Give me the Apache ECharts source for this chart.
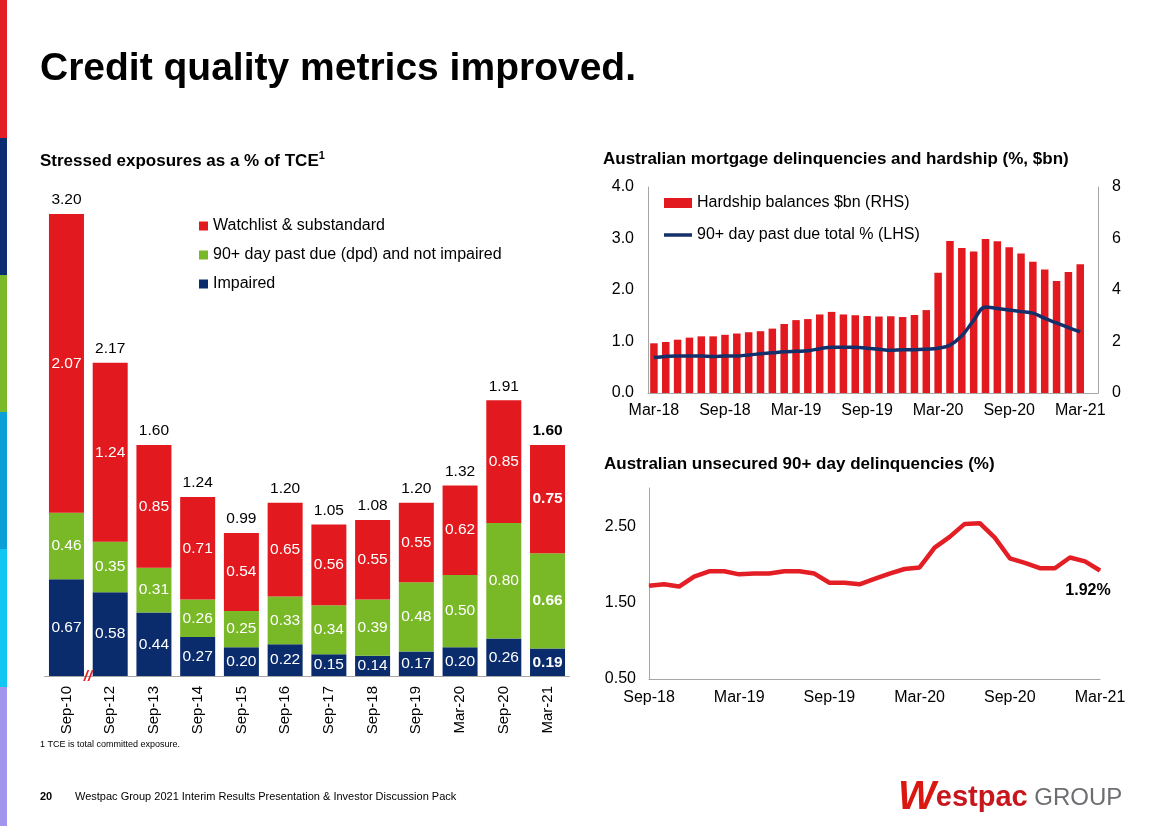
<!DOCTYPE html>
<html><head><meta charset="utf-8">
<script src="https://cdn.jsdelivr.net/npm/echarts@6/dist/echarts.min.js"></script>
<style>html,body{margin:0;padding:0;background:#fff}#c{width:1168px;height:826px}</style>
</head><body><div id="c"></div>
<script>
// ---------- Data ----------
const stressCategories = ['Sep-10','Sep-12','Sep-13','Sep-14','Sep-15','Sep-16','Sep-17','Sep-18','Sep-19','Mar-20','Sep-20','Mar-21'];
const impaired   = [0.67,0.58,0.44,0.27,0.20,0.22,0.15,0.14,0.17,0.20,0.26,0.19];
const pastDue90  = [0.46,0.35,0.31,0.26,0.25,0.33,0.34,0.39,0.48,0.50,0.80,0.66];
const watchlist  = [2.07,1.24,0.85,0.71,0.54,0.65,0.56,0.55,0.55,0.62,0.85,0.75];
const stressTotals = [3.20,2.17,1.60,1.24,0.99,1.20,1.05,1.08,1.20,1.32,1.91,1.60];

const mortgageMonths = ['Mar-18','Apr-18','May-18','Jun-18','Jul-18','Aug-18','Sep-18','Oct-18','Nov-18','Dec-18',
  'Jan-19','Feb-19','Mar-19','Apr-19','May-19','Jun-19','Jul-19','Aug-19','Sep-19','Oct-19','Nov-19','Dec-19',
  'Jan-20','Feb-20','Mar-20','Apr-20','May-20','Jun-20','Jul-20','Aug-20','Sep-20','Oct-20','Nov-20','Dec-20',
  'Jan-21','Feb-21','Mar-21'];
const hardshipBn = [1.93,1.98,2.07,2.15,2.20,2.20,2.26,2.31,2.36,2.40,
  2.50,2.68,2.83,2.87,3.05,3.15,3.05,3.02,2.99,2.97,
  2.98,2.95,3.03,3.22,4.67,5.90,5.63,5.50,5.98,5.89,
  5.66,5.42,5.10,4.80,4.35,4.70,5.00];
const mortgage90 = [0.69,0.71,0.72,0.72,0.72,0.71,0.72,0.72,0.74,0.76,
  0.78,0.80,0.81,0.82,0.86,0.89,0.89,0.89,0.87,0.85,
  0.83,0.84,0.84,0.85,0.87,0.93,1.11,1.41,1.67,1.64,
  1.61,1.58,1.55,1.45,1.36,1.27,1.19];

const unsecuredMonths = ['Sep-18','Oct-18','Nov-18','Dec-18','Jan-19','Feb-19','Mar-19','Apr-19','May-19','Jun-19',
  'Jul-19','Aug-19','Sep-19','Oct-19','Nov-19','Dec-19','Jan-20','Feb-20','Mar-20','Apr-20','May-20','Jun-20',
  'Jul-20','Aug-20','Sep-20','Oct-20','Nov-20','Dec-20','Jan-21','Feb-21','Mar-21'];
const unsecured90 = [1.72,1.74,1.71,1.84,1.91,1.91,1.87,1.88,1.88,1.91,
  1.91,1.88,1.76,1.76,1.74,1.81,1.88,1.94,1.96,2.22,
  2.36,2.53,2.54,2.35,2.08,2.02,1.95,1.95,2.09,2.04,1.92];

// ---------- Styling ----------
const FONT = '"Liberation Sans", Arial, Helvetica, sans-serif';
const RED = '#E2191E', GREEN = '#79B928', NAVY = '#0B2C6C', AXIS = '#A6A6A6';

const chart = echarts.init(document.getElementById('c'), null, {renderer: 'canvas'});

function segData(arr) {
  const last = arr.length - 1;
  return arr.map((v, i) => i === last ? {value: v, label: {fontWeight: 'bold'}} : v);
}
const insideLabel = {show: true, position: 'inside', color: '#fff', fontSize: 15.5, fontFamily: FONT,
  formatter: p => Number(p.value).toFixed(2)};

const lastU = unsecured90.length - 1;

const option = {
  animation: false,
  textStyle: {fontFamily: FONT},
  grid: [
    {left: 44.6, right: 598.6, top: 214, bottom: 150},
    {left: 648, right: 70, top: 187, bottom: 433},
    {left: 649, right: 68, top: 488, bottom: 147}
  ],
  legend: [
    {
      data: ['Watchlist & substandard', '90+ day past due (dpd) and not impaired', 'Impaired'],
      orient: 'vertical', left: 199, top: 217, padding: 0, icon: 'rect',
      itemWidth: 9, itemHeight: 9, itemGap: 11, selectedMode: false,
      textStyle: {fontSize: 16, lineHeight: 18, color: '#000', fontFamily: FONT}
    },
    {
      data: [
        {name: 'Hardship balances $bn (RHS)', icon: 'rect'},
        {name: '90+ day past due total % (LHS)', icon: 'path://M0,0H28V3.5H0Z'}
      ],
      orient: 'vertical', left: 664, top: 194, padding: 0,
      itemWidth: 28, itemHeight: 10, itemGap: 14, selectedMode: false,
      textStyle: {fontSize: 16, lineHeight: 18, color: '#000', fontFamily: FONT}
    }
  ],
  xAxis: [
    {
      type: 'category', gridIndex: 0, data: stressCategories,
      axisLine: {lineStyle: {color: AXIS, width: 1}}, axisTick: {show: false},
      axisLabel: {rotate: 90, fontSize: 15, margin: 10, color: '#000', interval: 0, fontFamily: FONT}
    },
    {
      type: 'category', gridIndex: 1, data: mortgageMonths.concat(['']),
      axisLine: {lineStyle: {color: AXIS, width: 1}}, axisTick: {show: false},
      axisLabel: {interval: 5, fontSize: 16, margin: 10, color: '#000', fontFamily: FONT}
    },
    {
      type: 'category', gridIndex: 2, data: unsecuredMonths, boundaryGap: false,
      axisLine: {lineStyle: {color: AXIS, width: 1}}, axisTick: {show: false},
      axisLabel: {interval: 5, fontSize: 16, margin: 11, color: '#000', fontFamily: FONT}
    }
  ],
  yAxis: [
    {type: 'value', gridIndex: 0, min: 0, max: 3.2, show: false, splitLine: {show: false}},
    {
      type: 'value', gridIndex: 1, min: 0, max: 4, interval: 1,
      axisLine: {show: true, lineStyle: {color: AXIS}}, axisTick: {show: false}, splitLine: {show: false},
      axisLabel: {fontSize: 16, margin: 14, color: '#000', formatter: v => v.toFixed(1), fontFamily: FONT}
    },
    {
      type: 'value', gridIndex: 1, position: 'right', min: 0, max: 8, interval: 2,
      axisLine: {show: true, lineStyle: {color: AXIS}}, axisTick: {show: false}, splitLine: {show: false},
      axisLabel: {fontSize: 16, margin: 14, color: '#000', fontFamily: FONT}
    },
    {
      type: 'value', gridIndex: 2, min: 0.5, max: 3.0, interval: 0.5,
      axisLine: {show: true, lineStyle: {color: AXIS}}, axisTick: {show: false}, splitLine: {show: false},
      axisLabel: {fontSize: 16, margin: 13, color: '#000', fontFamily: FONT,
        formatter: v => (Math.abs(((v - 0.5) % 1)) < 1e-6 ? v.toFixed(2) : '')}
    }
  ],
  series: [
    {
      name: 'Impaired', type: 'bar', stack: 'stress', xAxisIndex: 0, yAxisIndex: 0,
      barWidth: 35, barGap: '-100%', data: segData(impaired),
      itemStyle: {color: NAVY}, label: insideLabel
    },
    {
      name: '90+ day past due (dpd) and not impaired', type: 'bar', stack: 'stress', xAxisIndex: 0, yAxisIndex: 0,
      barWidth: 35, barGap: '-100%', data: segData(pastDue90),
      itemStyle: {color: GREEN}, label: insideLabel
    },
    {
      name: 'Watchlist & substandard', type: 'bar', stack: 'stress', xAxisIndex: 0, yAxisIndex: 0,
      barWidth: 35, barGap: '-100%', data: segData(watchlist),
      itemStyle: {color: RED}, label: insideLabel
    },
    {
      name: 'Total', type: 'bar', xAxisIndex: 0, yAxisIndex: 0, z: 1,
      barWidth: 35, barGap: '-100%', data: segData(stressTotals),
      itemStyle: {color: 'rgba(0,0,0,0)'},
      label: {show: true, position: 'top', distance: 6, color: '#000', fontSize: 15.5, fontFamily: FONT,
        formatter: p => Number(p.value).toFixed(2)}
    },
    {
      name: 'Hardship balances $bn (RHS)', type: 'bar', xAxisIndex: 1, yAxisIndex: 2,
      barWidth: 7.5, data: hardshipBn, itemStyle: {color: RED}
    },
    {
      name: '90+ day past due total % (LHS)', type: 'line', xAxisIndex: 1, yAxisIndex: 1,
      data: mortgage90, smooth: 0.4, symbol: 'none', showSymbol: false,
      lineStyle: {color: '#13306A', width: 3.5}, itemStyle: {color: '#13306A'}, z: 5
    },
    {
      name: 'Unsecured 90+', type: 'line', xAxisIndex: 2, yAxisIndex: 3,
      symbol: 'circle', symbolSize: 1, showSymbol: true,
      lineStyle: {color: '#E31E24', width: 4.5}, itemStyle: {color: '#E31E24'},
      label: {show: false},
      data: unsecured90.map((v, i) => i === lastU ? {
        value: v,
        label: {show: true, position: 'bottom', distance: 5, offset: [-12, 7], fontWeight: 'bold', fontSize: 16, color: '#000',
          fontFamily: FONT, formatter: p => Number(p.value).toFixed(2) + '%'}
      } : v)
    }
  ],
  graphic: [
    // left colour strip
    {type: 'rect', shape: {x: 0, y: 0, width: 7, height: 138}, style: {fill: '#E31E24'}},
    {type: 'rect', shape: {x: 0, y: 138, width: 7, height: 137}, style: {fill: '#0B2D71'}},
    {type: 'rect', shape: {x: 0, y: 275, width: 7, height: 137}, style: {fill: '#7AB929'}},
    {type: 'rect', shape: {x: 0, y: 412, width: 7, height: 137}, style: {fill: '#0A9FD6'}},
    {type: 'rect', shape: {x: 0, y: 549, width: 7, height: 138}, style: {fill: '#12C6F2'}},
    {type: 'rect', shape: {x: 0, y: 687, width: 7, height: 139}, style: {fill: '#A295EE'}},
    // titles
    {type: 'text', left: 40, top: 50, style: {text: 'Credit quality metrics improved.', fontSize: 39, fontWeight: 'bold', fill: '#000', fontFamily: FONT}},
    {type: 'text', left: 40, top: 150, style: {
      text: '{t|Stressed exposures as a % of TCE}{s|1}', fill: '#000',
      rich: {t: {fontSize: 17, fontWeight: 'bold', fontFamily: FONT, verticalAlign: 'bottom', lineHeight: 20},
             s: {fontSize: 11, fontWeight: 'bold', fontFamily: FONT, verticalAlign: 'top', lineHeight: 20, padding: [0, 0, 8, 0]}}
    }},
    {type: 'text', left: 603, top: 151, style: {text: 'Australian mortgage delinquencies and hardship (%, $bn)', fontSize: 17, fontWeight: 'bold', fill: '#000', fontFamily: FONT}},
    {type: 'text', left: 604, top: 456, style: {text: 'Australian unsecured 90+ day delinquencies (%)', fontSize: 17, fontWeight: 'bold', fill: '#000', fontFamily: FONT}},
    // axis break mark
    {type: 'text', x: 88, y: 677, style: {text: '//', fontSize: 15, fontWeight: 'bold', fontStyle: 'italic', fill: '#E31E24', align: 'center', verticalAlign: 'middle', fontFamily: FONT}, z: 10},
    // footnote & footer
    {type: 'text', left: 40, top: 740, style: {text: '1 TCE is total committed exposure.', fontSize: 9, fill: '#000', fontFamily: FONT}},
    {type: 'text', left: 40, top: 791, style: {text: '20', fontSize: 11, fontWeight: 'bold', fill: '#000', fontFamily: FONT}},
    {type: 'text', left: 75, top: 791, style: {text: 'Westpac Group 2021 Interim Results Presentation & Investor Discussion Pack', fontSize: 11, fill: '#000', fontFamily: FONT}},
    // logo
    {type: 'text', left: 898, top: 778, style: {
      text: '{w|W}{e|estpac}{g| GROUP}',
      rich: {
        w: {fontSize: 40, fontWeight: 'bold', fontStyle: 'italic', fill: '#DA1710', fontFamily: FONT, lineHeight: 38},
        e: {fontSize: 29, fontWeight: 'bold', fill: '#C8161D', fontFamily: FONT, lineHeight: 38},
        g: {fontSize: 24, fill: '#6D6E71', fontFamily: FONT, lineHeight: 38}
      }
    }}
  ]
};
chart.setOption(option);
</script>
</body></html>
